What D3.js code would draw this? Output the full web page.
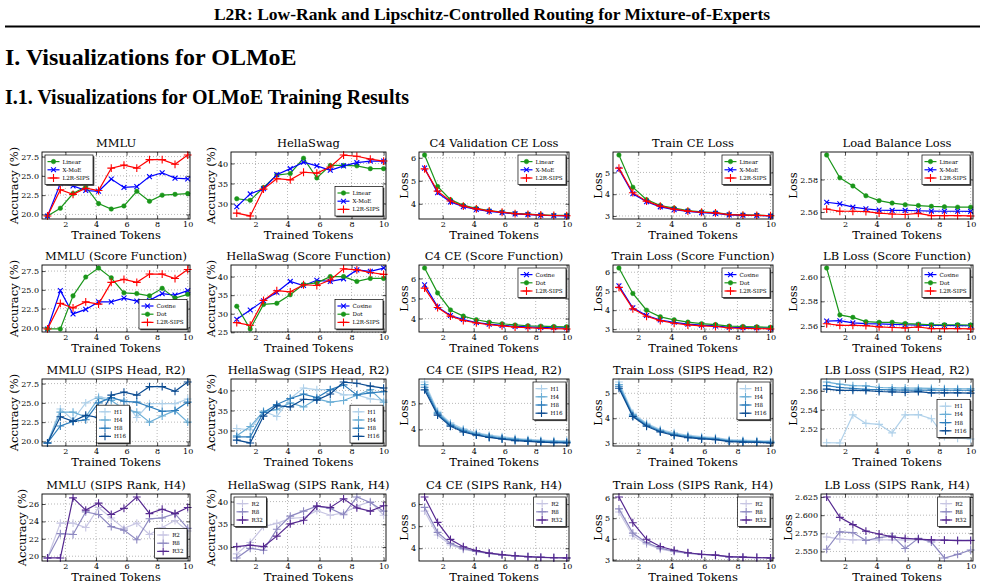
<!DOCTYPE html>
<html>
<head>
<meta charset="utf-8">
<script src="https://cdn.jsdelivr.net/npm/d3@7"></script>
<style>
  body { margin: 0; background: #fff; }
  svg { display: block; }
</style>
</head>
<body>
<svg id="page" width="985" height="588"></svg>
<script>
// ---- data ----
const tokens = [0.83, 1.67, 2.5, 3.33, 4.17, 5, 5.83, 6.67, 7.5, 8.33, 9.17, 10];
const xTicks = [2, 4, 6, 8, 10];

// row 1: baselines
const mmluLinear = [19.8, 20.8, 22.7, 23.6, 21.4, 20.7, 21.1, 23.0, 21.7, 22.5, 22.6, 22.7];
const mmluXMoE = [19.8, 24.0, 23.7, 23.1, 23.0, 24.6, 23.5, 23.6, 24.9, 25.4, 24.7, 24.6];
const mmluSips = [19.8, 23.2, 22.6, 23.4, 23.1, 26.0, 26.4, 26.0, 27.1, 27.1, 26.5, 27.7];
const hellaLinear = [31.2, 30.8, 34.0, 37.1, 37.5, 41.3, 36.4, 39.5, 39.5, 39.4, 38.7, 38.7];
const hellaXMoE = [29.2, 32.4, 33.7, 37.2, 38.7, 40.3, 39.4, 38.3, 39.4, 40.2, 40.6, 40.6];
const hellaSips = [27.6, 26.9, 33.6, 36.2, 35.9, 37.8, 37.6, 39.1, 42.1, 41.8, 41.1, 40.6];
const c4Linear = [6.12, 4.75, 4.18, 3.93, 3.80, 3.70, 3.64, 3.58, 3.55, 3.52, 3.50, 3.50];
const c4XMoE = [5.55, 4.48, 4.08, 3.87, 3.75, 3.67, 3.61, 3.56, 3.53, 3.50, 3.48, 3.47];
const c4Sips = [5.52, 4.55, 4.12, 3.90, 3.78, 3.69, 3.63, 3.57, 3.54, 3.51, 3.49, 3.48];
const trainLinear = [5.80, 4.32, 3.75, 3.48, 3.36, 3.25, 3.19, 3.15, 3.07, 3.05, 3.04, 3.01];
const trainXMoE = [5.15, 4.02, 3.65, 3.42, 3.29, 3.21, 3.15, 3.12, 3.05, 3.03, 3.02, 3.00];
const trainSips = [5.20, 4.07, 3.68, 3.45, 3.31, 3.22, 3.17, 3.14, 3.06, 3.04, 3.03, 3.01];
const lbLinear = [2.595, 2.581, 2.576, 2.570, 2.567, 2.5655, 2.5645, 2.564, 2.5635, 2.5632, 2.563, 2.563];
const lbXMoE = [2.566, 2.565, 2.563, 2.562, 2.5612, 2.561, 2.561, 2.5608, 2.5606, 2.5605, 2.5605, 2.5604];
const lbSips = [2.5618, 2.5605, 2.5605, 2.5603, 2.5593, 2.5588, 2.5585, 2.5592, 2.5578, 2.5578, 2.5578, 2.5576];

// row 2: score function
const mmluCosine = [19.8, 24.9, 21.8, 22.4, 23.4, 23.4, 23.9, 23.5, 23.6, 24.5, 24.3, 24.9];
const mmluDot = [19.8, 19.8, 24.2, 26.7, 27.9, 26.6, 24.6, 24.5, 24.2, 25.2, 23.9, 24.4];
const hellaCosine = [28.5, 31.0, 33.5, 35.8, 38.7, 37.6, 39.0, 38.7, 39.4, 41.8, 41.4, 42.3];
const hellaDot = [32.0, 25.9, 32.5, 32.8, 35.1, 37.9, 38.3, 40.0, 40.0, 38.7, 39.5, 39.5];
const c4Cosine = [5.68, 4.58, 4.15, 3.95, 3.80, 3.72, 3.66, 3.61, 3.58, 3.56, 3.54, 3.53];
const c4Dot = [6.52, 5.28, 4.43, 4.12, 3.94, 3.82, 3.74, 3.68, 3.64, 3.62, 3.60, 3.59];
const trainCosine = [5.28, 4.12, 3.72, 3.48, 3.36, 3.26, 3.21, 3.17, 3.10, 3.08, 3.07, 3.05];
const trainDot = [6.22, 4.88, 4.00, 3.65, 3.49, 3.37, 3.29, 3.24, 3.16, 3.14, 3.12, 3.10];
const lbCosine = [2.564, 2.5643, 2.5625, 2.562, 2.5618, 2.5613, 2.561, 2.5607, 2.5605, 2.5604, 2.5603, 2.5602];
const lbDot = [2.607, 2.569, 2.567, 2.5635, 2.563, 2.563, 2.562, 2.5615, 2.561, 2.561, 2.561, 2.5608];

// row 3: SIPS head count (H16 matches L2R-SIPS)
const mmluH1 = [19.8, 24.2, 22.8, 25.0, 25.8, 25.5, 25.4, 23.1, 24.9, 24.9, 24.9, 25.5];
const mmluH4 = [19.8, 23.8, 23.8, 23.2, 25.6, 25.3, 24.2, 23.8, 22.5, 23.3, 24.0, 22.5];
const mmluH8 = [19.8, 22.0, 22.6, 22.8, 25.0, 25.7, 25.2, 25.1, 24.5, 23.9, 24.0, 25.1];
const hellaH1 = [30.5, 30.2, 34.8, 33.5, 38.0, 40.6, 40.2, 40.2, 38.9, 38.9, 37.9, 37.6];
const hellaH4 = [28.7, 31.0, 34.8, 35.2, 36.9, 35.9, 37.9, 37.1, 37.5, 38.8, 40.2, 37.1];
const hellaH8 = [28.4, 28.4, 34.5, 36.5, 38.0, 39.1, 38.2, 40.2, 41.4, 38.9, 39.4, 39.7];
const c4H1 = [5.82, 4.70, 4.25, 4.02, 3.88, 3.78, 3.72, 3.66, 3.62, 3.59, 3.57, 3.56];
const c4H4 = [5.72, 4.65, 4.20, 3.98, 3.84, 3.75, 3.68, 3.63, 3.59, 3.56, 3.54, 3.53];
const c4H8 = [5.62, 4.60, 4.16, 3.94, 3.80, 3.71, 3.65, 3.60, 3.56, 3.53, 3.51, 3.50];
const trainH1 = [5.45, 4.20, 3.80, 3.55, 3.42, 3.32, 3.26, 3.22, 3.14, 3.12, 3.10, 3.09];
const trainH4 = [5.35, 4.15, 3.76, 3.51, 3.38, 3.28, 3.22, 3.19, 3.11, 3.09, 3.07, 3.06];
const trainH8 = [5.28, 4.10, 3.72, 3.48, 3.34, 3.25, 3.20, 3.16, 3.08, 3.06, 3.05, 3.03];
const lbH1 = [2.505, 2.5048, 2.5345, 2.5255, 2.5245, 2.5155, 2.5345, 2.5348, 2.5305, 2.5115, 2.5098, 2.509];
const lbH4 = [2.5693, 2.567, 2.5655, 2.5652, 2.5635, 2.5632, 2.563, 2.5628, 2.5625, 2.5622, 2.5622, 2.5622];
const lbH8 = [2.5655, 2.5635, 2.5625, 2.5615, 2.5612, 2.561, 2.5608, 2.5607, 2.5607, 2.5606, 2.5606, 2.5606];

// row 4: SIPS rank
const mmluR2 = [19.8, 23.8, 23.8, 23.3, 25.6, 24.4, 23.2, 23.8, 22.5, 23.3, 24.1, 22.9];
const mmluR8 = [19.8, 22.6, 22.5, 25.1, 24.8, 23.4, 23.0, 21.9, 24.3, 24.4, 24.9, 23.2];
const mmluR32 = [19.8, 19.8, 26.7, 25.3, 26.1, 24.8, 25.5, 26.8, 24.9, 25.4, 24.9, 25.6];
const hellaR2 = [28.5, 31.0, 34.5, 35.2, 36.3, 36.5, 38.0, 37.0, 37.5, 39.0, 40.0, 37.0];
const hellaR8 = [27.6, 29.7, 29.3, 33.9, 36.8, 37.9, 39.0, 38.5, 37.1, 41.0, 39.8, 37.9];
const hellaR32 = [30.1, 30.4, 30.1, 32.4, 35.1, 35.9, 39.0, 38.7, 40.6, 38.6, 37.9, 39.1];
const c4R2 = [5.68, 4.60, 4.15, 3.95, 3.85, 3.76, 3.70, 3.65, 3.62, 3.60, 3.58, 3.57];
const c4R8 = [5.85, 4.72, 4.22, 3.99, 3.86, 3.77, 3.70, 3.65, 3.62, 3.59, 3.57, 3.56];
const c4R32 = [6.32, 5.17, 4.40, 4.07, 3.89, 3.78, 3.71, 3.66, 3.62, 3.59, 3.57, 3.56];
const trainR2 = [5.30, 4.15, 3.75, 3.50, 3.38, 3.30, 3.24, 3.21, 3.13, 3.11, 3.10, 3.08];
const trainR8 = [5.45, 4.28, 3.82, 3.55, 3.41, 3.31, 3.25, 3.21, 3.13, 3.11, 3.10, 3.08];
const trainR32 = [6.02, 4.78, 3.98, 3.63, 3.45, 3.33, 3.26, 3.22, 3.14, 3.12, 3.10, 3.08];
const lbR2 = [2.570, 2.567, 2.566, 2.566, 2.566, 2.566, 2.566, 2.566, 2.566, 2.566, 2.566, 2.566];
const lbR8 = [2.553, 2.577, 2.576, 2.565, 2.569, 2.5715, 2.554, 2.568, 2.563, 2.541, 2.546, 2.552];
const lbR32 = [2.625, 2.597, 2.587, 2.578, 2.574, 2.570, 2.568, 2.567, 2.566, 2.5655, 2.565, 2.565];

// y tick labels
const mmluTicks = [20, 22.5, 25, 27.5];
const mmluRankTicks = [20, 22, 24, 26];
const hellaTicks = [30, 35, 40];
const hellaScoreTicks = [25, 30, 35, 40];
const c4Ticks = [4, 5, 6];
const c4HeadTicks = [4, 5];
const trainTicks = [3, 4, 5];
const trainWideTicks = [3, 4, 5, 6];
const lbTicks = [2.56, 2.58];
const lbScoreTicks = [2.56, 2.58, 2.60];
const lbHeadTicks = [2.52, 2.54, 2.56];
const lbRankTicks = [2.550, 2.575, 2.600, 2.625];

// ---- styles ----
const GREEN = "#1a961a", BLUE = "#0000ff", RED = "#ff0000";
const H1C = "#b0d1ea", H4C = "#6baed6", H8C = "#2e7ebc", H16C = "#0a4a90";
const R2C = "#c8c6e3", R8C = "#8e89c1", R32C = "#54278f";

const base = (a, b, c) => [["Linear", a, GREEN, "o"], ["X-MoE", b, BLUE, "x"], ["L2R-SIPS", c, RED, "+"]];
const score = (a, b, c) => [["Cosine", a, BLUE, "x"], ["Dot", b, GREEN, "o"], ["L2R-SIPS", c, RED, "+"]];
const heads = (a, b, c, d) => [["H1", a, H1C, "+"], ["H4", b, H4C, "+"], ["H8", c, H8C, "+"], ["H16", d, H16C, "+"]];
const ranks = (a, b, c) => [["R2", a, R2C, "+"], ["R8", b, R8C, "+"], ["R32", c, R32C, "+"]];

const ACC = "Accuracy (%)", LOSS = "Loss";
const panels = [
  { r: 0, c: 0, title: "MMLU", yl: ACC, ticks: mmluTicks, fmt: ".1f", leg: "ul", series: base(mmluLinear, mmluXMoE, mmluSips) },
  { r: 0, c: 1, title: "HellaSwag", yl: ACC, ticks: hellaTicks, fmt: "d", leg: "lr", series: base(hellaLinear, hellaXMoE, hellaSips) },
  { r: 0, c: 2, title: "C4 Validation CE Loss", yl: LOSS, ticks: c4Ticks, fmt: "d", leg: "ur", series: base(c4Linear, c4XMoE, c4Sips) },
  { r: 0, c: 3, title: "Train CE Loss", yl: LOSS, ticks: trainTicks, fmt: "d", leg: "ur", series: base(trainLinear, trainXMoE, trainSips) },
  { r: 0, c: 4, title: "Load Balance Loss", yl: LOSS, ticks: lbTicks, fmt: ".2f", leg: "ur", series: base(lbLinear, lbXMoE, lbSips) },

  { r: 1, c: 0, title: "MMLU (Score Function)", yl: ACC, ticks: mmluTicks, fmt: ".1f", leg: "lr", series: score(mmluCosine, mmluDot, mmluSips) },
  { r: 1, c: 1, title: "HellaSwag (Score Function)", yl: ACC, ticks: hellaScoreTicks, fmt: "d", leg: "lr", series: score(hellaCosine, hellaDot, hellaSips) },
  { r: 1, c: 2, title: "C4 CE (Score Function)", yl: LOSS, ticks: c4Ticks, fmt: "d", leg: "ur", series: score(c4Cosine, c4Dot, c4Sips) },
  { r: 1, c: 3, title: "Train Loss (Score Function)", yl: LOSS, ticks: trainWideTicks, fmt: "d", leg: "ur", series: score(trainCosine, trainDot, trainSips) },
  { r: 1, c: 4, title: "LB Loss (Score Function)", yl: LOSS, ticks: lbScoreTicks, fmt: ".2f", leg: "ur", series: score(lbCosine, lbDot, lbSips) },

  { r: 2, c: 0, title: "MMLU (SIPS Head, R2)", yl: ACC, ticks: mmluTicks, fmt: ".1f", leg: "lc", series: heads(mmluH1, mmluH4, mmluH8, mmluSips) },
  { r: 2, c: 1, title: "HellaSwag (SIPS Head, R2)", yl: ACC, ticks: hellaTicks, fmt: "d", leg: "lr", series: heads(hellaH1, hellaH4, hellaH8, hellaSips) },
  { r: 2, c: 2, title: "C4 CE (SIPS Head, R2)", yl: LOSS, ticks: c4HeadTicks, fmt: "d", leg: "ur", series: heads(c4H1, c4H4, c4H8, c4Sips) },
  { r: 2, c: 3, title: "Train Loss (SIPS Head, R2)", yl: LOSS, ticks: trainTicks, fmt: "d", leg: "ur", series: heads(trainH1, trainH4, trainH8, trainSips) },
  { r: 2, c: 4, title: "LB Loss (SIPS Head, R2)", yl: LOSS, ticks: lbHeadTicks, fmt: ".2f", leg: "cr", series: heads(lbH1, lbH4, lbH8, lbSips) },

  { r: 3, c: 0, title: "MMLU (SIPS Rank, H4)", yl: ACC, ticks: mmluRankTicks, fmt: "d", leg: "lr", series: ranks(mmluR2, mmluR8, mmluR32) },
  { r: 3, c: 1, title: "HellaSwag (SIPS Rank, H4)", yl: ACC, ticks: hellaTicks, fmt: "d", leg: "ul", series: ranks(hellaR2, hellaR8, hellaR32) },
  { r: 3, c: 2, title: "C4 CE (SIPS Rank, H4)", yl: LOSS, ticks: c4Ticks, fmt: "d", leg: "ur", series: ranks(c4R2, c4R8, c4R32) },
  { r: 3, c: 3, title: "Train Loss (SIPS Rank, H4)", yl: LOSS, ticks: trainWideTicks, fmt: "d", leg: "ur", series: ranks(trainR2, trainR8, trainR32) },
  { r: 3, c: 4, title: "LB Loss (SIPS Rank, H4)", yl: LOSS, ticks: lbRankTicks, fmt: ".3f", leg: "ur", series: ranks(lbR2, lbR8, lbR32) }
];

// ---- layout ----
const svg = d3.select("#page");
const SERIF = "'DejaVu Serif', serif";
const PAPER = "'Liberation Serif', 'Times New Roman', serif";
const H = 67;
const colBoxes = [[42, 190], [231, 386], [419, 569], [613, 773], [821, 973]];
const rowTops = [152, 265, 379, 494];
const xDomain = [0.47, 10.15];

// page header
svg.append("text").attr("x", 492).attr("y", 20).attr("text-anchor", "middle")
  .style("font-family", PAPER).style("font-weight", "bold").style("font-size", "17.5px")
  .text("L2R: Low-Rank and Lipschitz-Controlled Routing for Mixture-of-Experts");
svg.append("line").attr("x1", 5).attr("x2", 980).attr("y1", 26.5).attr("y2", 26.5)
  .attr("stroke", "#000").attr("stroke-width", 1.8);
svg.append("text").attr("x", 5).attr("y", 65)
  .style("font-family", PAPER).style("font-weight", "bold").style("font-size", "24px")
  .text("I. Visualizations for OLMoE");
svg.append("text").attr("x", 5).attr("y", 104)
  .style("font-family", PAPER).style("font-weight", "bold").style("font-size", "20px")
  .text("I.1. Visualizations for OLMoE Training Results");

const symbolOf = { o: d3.symbolCircle, x: d3.symbolTimes, "+": d3.symbolPlus };
const sizeOf = { o: 16, x: 17, "+": 22 };

function drawMarker(g, type, color) {
  const p = g.append("path").attr("d", d3.symbol(symbolOf[type], sizeOf[type])());
  if (type === "o") p.attr("fill", color).attr("stroke", color).attr("stroke-width", 0.5);
  else p.attr("fill", "none").attr("stroke", color).attr("stroke-width", 1.1);
  return p;
}

function drawPanel(p) {
  const [left, right] = colBoxes[p.c];
  const top = rowTops[p.r], bottom = top + H;
  const x = d3.scaleLinear().domain(xDomain).range([left, right]);
  const [lo, hi] = d3.extent(p.series.flatMap(s => s[1]));
  const pad = (hi - lo) * 0.05;
  const y = d3.scaleLinear().domain([lo - pad, hi + pad]).range([bottom, top]);
  const g = svg.append("g");

  // grid
  g.append("g").selectAll("line").data(xTicks).join("line")
    .attr("x1", d => x(d)).attr("x2", d => x(d)).attr("y1", top).attr("y2", bottom)
    .attr("stroke", "#9a9a9a").attr("stroke-width", 0.7).attr("stroke-dasharray", "1,2");
  g.append("g").selectAll("line").data(p.ticks).join("line")
    .attr("x1", left).attr("x2", right).attr("y1", d => y(d)).attr("y2", d => y(d))
    .attr("stroke", "#9a9a9a").attr("stroke-width", 0.7).attr("stroke-dasharray", "1,2");

  // axes, ticks pointing inward on all four sides
  const axes = [
    g.append("g").attr("transform", `translate(0,${bottom})`)
      .call(d3.axisBottom(x).tickValues(xTicks).tickFormat(d3.format("d")).tickSizeInner(-3.5).tickSizeOuter(0).tickPadding(2)),
    g.append("g").attr("transform", `translate(0,${top})`)
      .call(d3.axisTop(x).tickValues(xTicks).tickFormat("").tickSizeInner(-3.5).tickSizeOuter(0)),
    g.append("g").attr("transform", `translate(${left},0)`)
      .call(d3.axisLeft(y).tickValues(p.ticks).tickFormat(d3.format(p.fmt)).tickSizeInner(-3.5).tickSizeOuter(0).tickPadding(3)),
    g.append("g").attr("transform", `translate(${right},0)`)
      .call(d3.axisRight(y).tickValues(p.ticks).tickFormat("").tickSizeInner(-3.5).tickSizeOuter(0))
  ];
  axes.forEach(a => {
    a.select(".domain").remove();
    a.selectAll("line").attr("stroke", "#000").attr("stroke-width", 0.7);
    a.selectAll("text").style("font-family", SERIF).style("font-size", "8px").attr("fill", "#000");
  });

  // series
  const line = d3.line().x((d, i) => x(tokens[i])).y(d => y(d));
  p.series.forEach(([name, vals, color, mk]) => {
    g.append("path").datum(vals).attr("d", line)
      .attr("fill", "none").attr("stroke", color).attr("stroke-width", 1.2);
    vals.forEach((v, i) => {
      drawMarker(g, mk, color).attr("transform", `translate(${x(tokens[i])},${y(v)})`);
    });
  });

  // frame
  g.append("rect").attr("x", left).attr("y", top).attr("width", right - left).attr("height", H)
    .attr("fill", "none").attr("stroke", "#000").attr("stroke-width", 0.9);

  // labels
  g.append("text").attr("x", (left + right) / 2).attr("y", top - 5).attr("text-anchor", "middle")
    .style("font-family", SERIF).style("font-size", "11.5px").text(p.title);
  g.append("text").attr("x", (left + right) / 2).attr("y", bottom + 20).attr("text-anchor", "middle")
    .style("font-family", SERIF).style("font-size", "11.5px").text("Trained Tokens");
  const tickW = d3.max(axes[2].selectAll("text").nodes(), n => n.getComputedTextLength());
  const ylx = left - 3 - tickW - 3;
  g.append("text").attr("transform", `translate(${ylx},${(top + bottom) / 2}) rotate(-90)`)
    .attr("text-anchor", "middle")
    .style("font-family", SERIF).style("font-size", "11.5px").text(p.yl);

  // legend
  const fs = 5.6, rowH = 8.2, handle = 12, padX = 2.5, padY = 2.5;
  const lg = g.append("g");
  const labels = p.series.map((s, i) => lg.append("text")
    .attr("x", padX + handle + 3).attr("y", padY + rowH * i + rowH / 2).attr("dy", "0.35em")
    .style("font-family", SERIF).style("font-size", fs + "px").text(s[0]));
  const tw = d3.max(labels, t => t.node().getComputedTextLength());
  const lw = padX + handle + 3 + tw + padX + 1, lh = padY * 2 + rowH * p.series.length;
  let lx, ly;
  if (p.leg === "ul") { lx = left + 3; ly = top + 3; }
  else if (p.leg === "ur") { lx = right - 3 - lw; ly = top + 3; }
  else if (p.leg === "lr") { lx = right - 3 - lw; ly = bottom - 3 - lh; }
  else if (p.leg === "lc") { lx = (left + right) / 2 - lw / 2 - 3; ly = bottom - 3 - lh; }
  else { lx = right - 3 - lw; ly = (top + bottom) / 2 - lh / 2 + 6; }
  lg.attr("transform", `translate(${lx},${ly})`);
  lg.insert("rect", ":first-child").attr("width", lw).attr("height", lh)
    .attr("fill", "#fff").attr("stroke", "#000").attr("stroke-width", 0.7);
  lg.insert("rect", ":first-child").attr("x", 1.3).attr("y", 1.3).attr("width", lw).attr("height", lh)
    .attr("fill", "#444");
  p.series.forEach(([name, vals, color, mk], i) => {
    const cy = padY + rowH * i + rowH / 2;
    lg.append("line").attr("x1", padX).attr("x2", padX + handle).attr("y1", cy).attr("y2", cy)
      .attr("stroke", color).attr("stroke-width", 1.2);
    drawMarker(lg, mk, color).attr("transform", `translate(${padX + handle / 2},${cy})`);
  });
}

panels.forEach(drawPanel);
</script>
</body>
</html>
